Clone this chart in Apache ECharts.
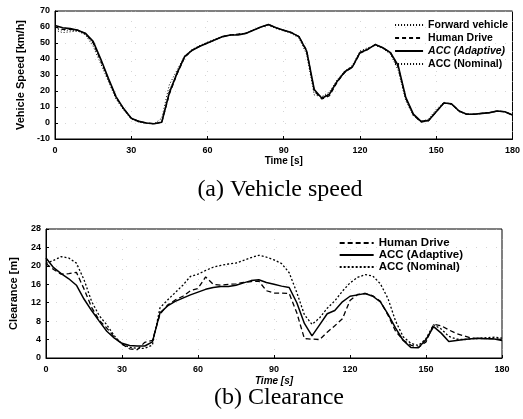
<!DOCTYPE html>
<html>
<head>
<meta charset="utf-8">
<script src="https://cdn.jsdelivr.net/npm/echarts@6/dist/echarts.min.js"></script>
<style>
  html, body { margin: 0; padding: 0; background: #fff; }
  #chart { width: 523px; height: 419px; }
</style>
</head>
<body>
<div id="chart"></div>
<script>
// time samples, every 3 s
const time = [0, 3, 6, 9, 12, 15, 18, 21, 24, 27, 30, 33, 36, 39, 42, 45, 48, 51, 54, 57, 60,
  63, 66, 69, 72, 75, 78, 81, 84, 87, 90, 93, 96, 99, 102, 105, 108, 111, 114, 117, 120,
  123, 126, 129, 132, 135, 138, 141, 144, 147, 150, 153, 156, 159, 162, 165, 168, 171, 174, 177, 180]

// (a) vehicle speed [km/h]
const speedForward = [58, 56.5, 57, 57.5, 55, 48, 37, 26, 15, 8, 2.5, 0.5, -0.3, -0.5, 3, 24, 33, 42, 46, 48.5, 50.5,
  52.5, 54, 55, 55.5, 56, 58, 60, 61, 59, 57.5, 56, 53, 43, 17.5, 16.5, 19.5, 27, 32.5, 36, 45,
  47, 48.5, 46.5, 43, 33, 14, 4.5, 0.8, 2.5, 8.5, 13, 11.5, 7, 5.5, 5.5, 6, 6.5, 7.5, 7, 5]
const speedHuman = [60, 58.5, 58.5, 58, 56, 50, 39, 27.5, 16, 9, 3, 1, 0, -0.5, 0.5, 18, 30.5, 41, 45.5, 48, 50,
  52, 54, 55, 55.5, 56, 58, 60, 61.5, 59.5, 58, 56.5, 54, 45.5, 20, 15, 17, 25.5, 31.5, 35, 43.5,
  46, 49, 47, 44, 35, 15.5, 5, 0.5, 1.5, 7, 12.5, 12, 7.5, 5.5, 5.5, 6, 6.5, 7.5, 7, 5]
const speedAdaptive = [61, 59.5, 59, 58, 56, 51, 40, 28, 16.5, 9, 3, 1, 0, -0.5, 0.5, 19, 31, 41.5, 45.5, 48, 50,
  52, 54, 55, 55, 56, 58, 60, 61.5, 59.5, 58, 56.5, 54, 45, 21, 15.5, 18, 26, 32, 35, 44,
  46, 49, 47, 44, 36, 16, 5.5, 1, 1.5, 7, 12.5, 12, 7.5, 5.5, 5.5, 6, 6.5, 7.5, 7, 5]
const speedNominal = [59, 58, 58, 57.5, 55.5, 50, 39, 27, 16, 8.5, 3, 1, 0, -0.5, 1, 20, 31.5, 41.5, 45.5, 48, 50,
  52, 54, 55, 55.5, 56, 58, 60, 61.5, 59.5, 58, 56.5, 54, 44.5, 19.5, 16, 18.5, 26, 32, 35.5, 44,
  46.5, 49, 47, 43.5, 35, 15, 5, 1, 2, 7.5, 12.5, 12, 7.5, 5.5, 5.5, 6, 6.5, 7.5, 7, 5]

// (b) clearance [m]
const clearHuman = [20.5, 19.2, 18.2, 18.3, 18.6, 15, 11, 8.2, 6.5, 4.5, 3, 2, 1.8, 3.4, 3.8, 9.5, 11.5, 12.6, 13.4, 14.6, 15.1,
  17.6, 16, 15.8, 16, 16.1, 16.4, 16.6, 16.7, 14.6, 14.1, 14.1, 14, 9.8, 4.2, 4.1, 4, 5.6, 7, 8.5, 12.5,
  13.8, 14, 13.5, 12.3, 9.3, 5.8, 3.9, 2.8, 2.3, 3.5, 7.3, 7, 6.1, 5.3, 4.8, 4.3, 4.2, 4.2, 4.2, 4]
const clearAdaptive = [21.7, 19.6, 18.3, 17.2, 15.8, 12.8, 10.3, 8, 5.8, 4.3, 3.2, 2.7, 2.6, 2.6, 3.5, 9.8, 11.3, 12.3, 13, 13.7, 14.3,
  14.9, 15.3, 15.5, 15.5, 15.8, 16.3, 16.8, 17, 16.4, 16, 15.6, 15.3, 12, 7.5, 4.8, 7.2, 9.6, 10.3, 12.2, 13.4,
  13.7, 14, 13.4, 12.2, 9.5, 6.5, 3.8, 2.3, 2.2, 4, 6.8, 5.4, 3.6, 3.8, 4, 4.2, 4.3, 4.2, 4.1, 3.8]
const clearNominal = [20.5, 21.2, 22, 21.7, 20.6, 17, 12.3, 9.2, 7.2, 4.8, 3, 2.3, 2.1, 2.1, 2.8, 10.9, 12.6, 14.2, 15.8, 17.7, 18.2,
  19, 19.7, 20.1, 20.4, 20.6, 21.2, 21.8, 22.3, 21.9, 21.3, 20.5, 18.5, 14.2, 9.4, 7.3, 8.7, 10.8, 12.4, 14.5, 16.3,
  17.5, 18.1, 17.8, 16.1, 12.9, 8, 4.6, 3.2, 2.7, 4.2, 7.2, 6.3, 4.7, 4.1, 4, 4.2, 4.3, 4.4, 4.5, 4.3]

const pairs = vals => time.map((t, i) => [t, vals[i]])

const FONT = 'Liberation Sans'
const tickLabel = { color: '#000', fontFamily: FONT, fontSize: 9, fontWeight: 'bold' }
const gridLine = { show: true, lineStyle: { color: '#bbb', width: 0.6, type: [1, 9] } }

function xAxis(gridIndex, name, italic, gap) {
  return {
    type: 'value', gridIndex, min: 0, max: 180, interval: 30,
    name, nameLocation: 'middle', nameGap: gap,
    nameTextStyle: { color: '#000', fontFamily: FONT, fontSize: 10, fontWeight: 'bold', fontStyle: italic ? 'italic' : 'normal' },
    axisLine: { onZero: false, lineStyle: { color: '#000', width: 1 } },
    axisTick: { inside: true, length: 3, lineStyle: { color: '#000' } },
    axisLabel: Object.assign({ margin: 7 }, tickLabel),
    splitLine: gridLine,
  }
}

function yAxis(gridIndex, name, min, max, interval, gap) {
  return {
    type: 'value', gridIndex, min, max, interval,
    name, nameLocation: 'middle', nameGap: gap,
    nameTextStyle: { color: '#000', fontFamily: FONT, fontSize: 11, fontWeight: 'bold' },
    axisLine: { onZero: false, lineStyle: { color: '#000', width: 1 } },
    axisTick: { inside: true, length: 3, lineStyle: { color: '#000' } },
    axisLabel: Object.assign({ margin: 5 }, tickLabel),
    splitLine: gridLine,
  }
}

function line(name, vals, xi, type, width) {
  return {
    name, type: 'line', xAxisIndex: xi, yAxisIndex: xi,
    data: pairs(vals), symbol: 'none', silent: true, animation: false,
    lineStyle: { color: '#000', width, type },
    itemStyle: { color: '#000' },
  }
}

const legendText = { color: '#000', fontFamily: FONT, fontWeight: 'bold' }
// hide the circle that line legends add next to the stroke
const noMarker = { color: 'rgba(0,0,0,0)', borderWidth: 0, opacity: 0 }

const option = {
  backgroundColor: '#fff',
  animation: false,
  grid: [
    { left: 55, right: 8, top: 11, height: 128, show: true, borderColor: '#000', borderWidth: 1 },
    { left: 46, right: 21, top: 229, height: 129, show: true, borderColor: '#000', borderWidth: 1 },
  ],
  xAxis: [xAxis(0, 'Time [s]', false, 16), xAxis(1, 'Time [s]', true, 18)],
  yAxis: [
    yAxis(0, 'Vehicle Speed [km/h]', -10, 70, 10, 28),
    yAxis(1, 'Clearance [m]', 0, 28, 4, 27),
  ],
  legend: [
    {
      orient: 'vertical', right: 10, top: 14, itemWidth: 28, itemHeight: 8, itemGap: 1,
      itemStyle: noMarker,
      textStyle: Object.assign({ fontSize: 10.5, lineHeight: 12 }, legendText),
      data: [
        { name: 'Forward vehicle' },
        { name: 'Human Drive ' },
        { name: 'ACC (Adaptive) ', textStyle: { fontStyle: 'italic' } },
        { name: 'ACC (Nominal) ' },
      ],
    },
    {
      orient: 'vertical', right: 55, top: 232, itemWidth: 34, itemHeight: 8, itemGap: 0,
      itemStyle: noMarker,
      textStyle: Object.assign({ fontSize: 11.5, lineHeight: 12 }, legendText),
      data: ['Human Drive', 'ACC (Adaptive)', 'ACC (Nominal)'],
    },
  ],
  series: [
    line('Forward vehicle', speedForward, 0, [1, 2], 1),
    line('Human Drive ', speedHuman, 0, [4, 3], 1.2),
    line('ACC (Adaptive) ', speedAdaptive, 0, 'solid', 1.6),
    line('ACC (Nominal) ', speedNominal, 0, [1, 2], 1),
    line('Human Drive', clearHuman, 1, [5, 3], 1.3),
    line('ACC (Adaptive)', clearAdaptive, 1, 'solid', 1.5),
    line('ACC (Nominal)', clearNominal, 1, [2, 2], 1.3),
  ],
  graphic: [
    { type: 'text', x: 280, y: 190,
      style: { text: '(a) Vehicle speed', fill: '#000', font: '24px "Liberation Serif"', align: 'center', verticalAlign: 'middle' } },
    { type: 'text', x: 279, y: 398,
      style: { text: '(b) Clearance', fill: '#000', font: '24px "Liberation Serif"', align: 'center', verticalAlign: 'middle' } },
  ],
}

const eChart = echarts.init(document.getElementById('chart'))
eChart.setOption(option, true)
window.addEventListener('resize', () => eChart && eChart.resize())
</script>
</body>
</html>
